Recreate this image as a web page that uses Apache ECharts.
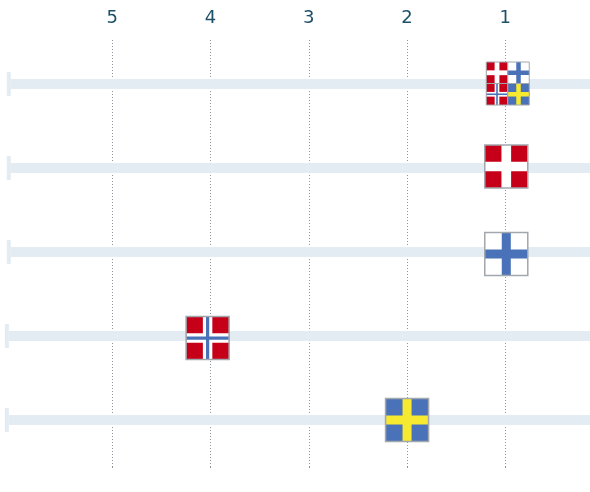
<!DOCTYPE html>
<html>
<head>
<meta charset="utf-8">
<style>
  html, body { margin: 0; padding: 0; background: #fff; }
  #chart { width: 590px; height: 492px; }
</style>
<script src="https://cdn.jsdelivr.net/npm/echarts@6/dist/echarts.min.js"></script>
</head>
<body>
<div id="chart"></div>
<script>
// values
const rankTicks = [1, 2, 3, 4, 5];
const rows = [1, 2, 3, 4, 5];
const trackEnds = [6.033, 6.033, 6.033, 6.053, 6.053];
const flagRanks = [0.975, 0.99, 0.99, 4.03, 2.0];
const flagRows = [0.994, 1.982, 3.024, 4.024, 5.0];
const flagSets = [['DK', 'FI', 'NO', 'SE'], ['DK'], ['FI'], ['NO'], ['SE']];

const RED = '#c60018';
const BLUE = '#4a72b8';
const YELLOW = '#f7e92f';
const WHITE = '#ffffff';
const TRACK = '#e3ebf3';

const FLAG_STYLES = {
  DK: { bg: RED, cross: [[0.225, WHITE]] },
  FI: { bg: WHITE, cross: [[0.21, BLUE]] },
  NO: { bg: RED, cross: [[0.22, WHITE], [0.075, BLUE]] },
  SE: { bg: BLUE, cross: [[0.21, YELLOW]] },
};

// one square flag with its centre at cx, cy
function flagShapes(code, cx, cy, size, border) {
  const style = FLAG_STYLES[code];
  const x = cx - size / 2;
  const y = cy - size / 2;
  const out = [{ type: 'rect', shape: { x, y, width: size, height: size }, style: { fill: style.bg } }];
  style.cross.forEach(([w, color]) => {
    const t = w * size;
    out.push({ type: 'rect', shape: { x: cx - t / 2, y, width: t, height: size }, style: { fill: color } });
    out.push({ type: 'rect', shape: { x, y: cy - t / 2, width: size, height: t }, style: { fill: color } });
  });
  out.push({
    type: 'rect',
    shape: { x, y, width: size, height: size },
    style: { fill: 'none', stroke: '#a2a6ad', lineWidth: border },
  });
  return out;
}

function renderTrack(params, api) {
  const left = api.coord([api.value(0), api.value(1)]);
  const right = params.coordSys.x + params.coordSys.width;
  return {
    type: 'group',
    children: [
      { type: 'rect', shape: { x: left[0], y: left[1] - 5, width: right - left[0], height: 10 }, style: { fill: TRACK } },
      { type: 'rect', shape: { x: left[0] - 4, y: left[1] - 12, width: 4, height: 24 }, style: { fill: TRACK } },
    ],
  };
}

function renderFlag(params, api) {
  const c = api.coord([api.value(0), api.value(1)]);
  const codes = flagSets[params.dataIndex];
  const size = 43;
  if (codes.length === 1) {
    return { type: 'group', children: flagShapes(codes[0], c[0], c[1], size, 1.5) };
  }
  const half = size / 2;
  let children = [];
  codes.forEach((code, i) => {
    const dx = (i % 2 === 0 ? -1 : 1) * half / 2;
    const dy = (i < 2 ? -1 : 1) * half / 2;
    children = children.concat(flagShapes(code, c[0] + dx, c[1] + dy, half, 1));
  });
  return { type: 'group', children };
}

const chart = echarts.init(document.getElementById('chart'), null, { renderer: 'canvas' });

const xRange = { min: 0.1379, max: 6.143 };

chart.setOption({
  animation: false,
  backgroundColor: '#fff',
  grid: { left: 0, right: 0, top: 40, bottom: 24 },
  xAxis: [
    {
      type: 'value',
      position: 'top',
      inverse: true,
      min: xRange.min,
      max: xRange.max,
      axisLine: { show: false },
      axisTick: { show: false, customValues: rankTicks },
      axisLabel: {
        customValues: rankTicks,
        margin: 13,
        color: '#1d5068',
        fontFamily: 'DejaVu Sans',
        fontSize: 18,
        showMinLabel: true,
        showMaxLabel: true,
      },
      splitLine: { show: true, lineStyle: { color: '#8f959d', type: [1, 2], width: 1 } },
    },
    {
      type: 'value',
      position: 'bottom',
      inverse: true,
      min: xRange.min,
      max: xRange.max,
      axisLine: { show: false },
      axisTick: { show: true, inside: true, length: 2, customValues: rankTicks, lineStyle: { color: '#8d939b' } },
      axisLabel: { show: false },
      splitLine: { show: false },
    },
  ],
  yAxis: { type: 'value', inverse: true, min: 0.476, max: 5.571, show: false, splitLine: { show: false } },
  series: [
    {
      type: 'custom',
      z: 3,
      renderItem: renderTrack,
      encode: { x: 0, y: 1 },
      data: rows.map((r, i) => [trackEnds[i], r]),
    },
    {
      type: 'custom',
      z: 4,
      renderItem: renderFlag,
      encode: { x: 0, y: 1 },
      data: rows.map((r, i) => [flagRanks[i], flagRows[i]]),
    },
  ],
});
</script>
</body>
</html>
